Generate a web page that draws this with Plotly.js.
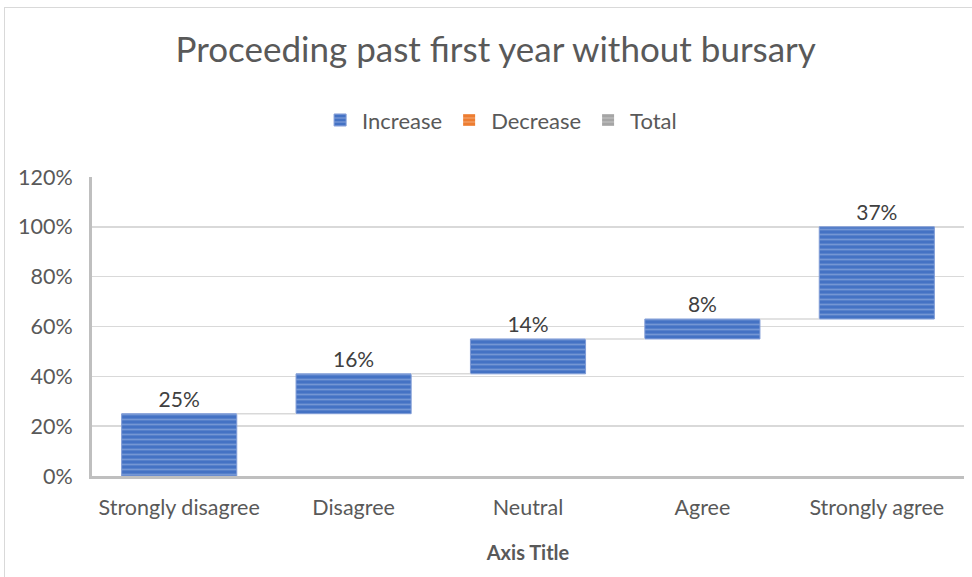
<!DOCTYPE html>
<html>
<head>
<meta charset="utf-8">
<script src="https://cdn.plot.ly/plotly-3.0.1.min.js"></script>
<style>
  html, body { margin: 0; padding: 0; background: #fff; }
  #chart { width: 972px; height: 577px; position: relative; }
  #frame { position: absolute; left: 4px; top: 7px; width: 980px; height: 600px; border: 1px solid #D9D9D9; pointer-events: none; }
</style>
</head>
<body>
<div style="position:relative;width:972px;height:577px;overflow:hidden;">
  <div id="chart"></div>
  <div id="frame"></div>
</div>
<script>
const categories = ["Strongly disagree", "Disagree", "Neutral", "Agree", "Strongly agree"];
const increaseValues = [0.25, 0.16, 0.14, 0.08, 0.37];
const legendNames = ["Increase", "Decrease", "Total"];
const seriesColors = ["#4472C4", "#ED7D31", "#A5A5A5"];
const seriesLight = ["#A4BAE4", "#F6BE98", "#D2D2D2"];

// cumulative bases for the waterfall
const bases = [];
let run = 0;
for (const v of increaseValues) { bases.push(run); run += v; }

const fontFam = "Lato, 'Open Sans', sans-serif";
const barWidth = 0.66;

function pattern(i) {
  return { shape: "-", bgcolor: seriesColors[i], fgcolor: seriesLight[i], size: 5, solidity: 0.35, fillmode: "overlay" };
}

const traces = [
  {
    type: "bar", name: legendNames[0], x: categories, y: increaseValues, base: bases,
    width: barWidth,
    marker: { color: seriesColors[0], pattern: pattern(0), line: { color: "#7F9BD6", width: 1 } },
    text: increaseValues.map(v => Math.round(v * 100) + "%"),
    textposition: "outside", cliponaxis: false,
    textfont: { family: fontFam, size: 21, color: "#404040" },
    hoverinfo: "skip"
  },
  {
    type: "bar", name: legendNames[1], x: [categories[0]], y: [null],
    marker: { color: seriesColors[1], pattern: pattern(1) }, hoverinfo: "skip"
  },
  {
    type: "bar", name: legendNames[2], x: [categories[0]], y: [null],
    marker: { color: seriesColors[2], pattern: pattern(2) }, hoverinfo: "skip"
  }
];

// connector lines between consecutive bars, derived from the data
const shapes = [];
for (let i = 0; i < categories.length - 1; i++) {
  const level = bases[i] + increaseValues[i];
  shapes.push({
    type: "line", xref: "x", yref: "y",
    x0: i + barWidth / 2, x1: i + 1 - barWidth / 2, y0: level, y1: level,
    line: { color: "#D9D9D9", width: 1.5 }
  });
}

const layout = {
  width: 972, height: 577,
  margin: { l: 92, r: 8, t: 177, b: 101 },
  paper_bgcolor: "#ffffff", plot_bgcolor: "#ffffff",
  font: { family: fontFam, color: "#595959", size: 21 },
  title: {
    text: "Proceeding past first year without bursary",
    font: { family: fontFam, size: 35, color: "#595959" },
    x: 0.51, xanchor: "center", y: 0.913, yanchor: "middle"
  },
  barmode: "overlay",
  bargap: 0.34,
  showlegend: true,
  legend: {
    orientation: "h", x: 0.468, xanchor: "center", y: 1.19, yanchor: "middle",
    font: { family: fontFam, size: 22, color: "#595959" },
    itemwidth: 34, tracegroupgap: 0
  },
  xaxis: {
    type: "category",
    tickfont: { family: fontFam, size: 21.5, color: "#595959" },
    showline: true, linecolor: "#BFBFBF", linewidth: 3,
    ticks: "", showgrid: false, ticklabelstandoff: 10,
    title: { text: "Axis Title", font: { family: fontFam, size: 20, color: "#595959", weight: "bold" }, standoff: 28 },
    range: [-0.5, categories.length - 0.5]
  },
  yaxis: {
    range: [0, 1.2], dtick: 0.2, tickformat: ".0%",
    tickfont: { family: fontFam, size: 21.5, color: "#595959" },
    showline: true, linecolor: "#BFBFBF", linewidth: 3,
    gridcolor: "#D9D9D9", gridwidth: 1.5,
    zeroline: false, ticks: "", ticklabelstandoff: 12
  },
  shapes: shapes
};

Plotly.newPlot("chart", traces, layout, { displayModeBar: false, staticPlot: true });
</script>
</body>
</html>
